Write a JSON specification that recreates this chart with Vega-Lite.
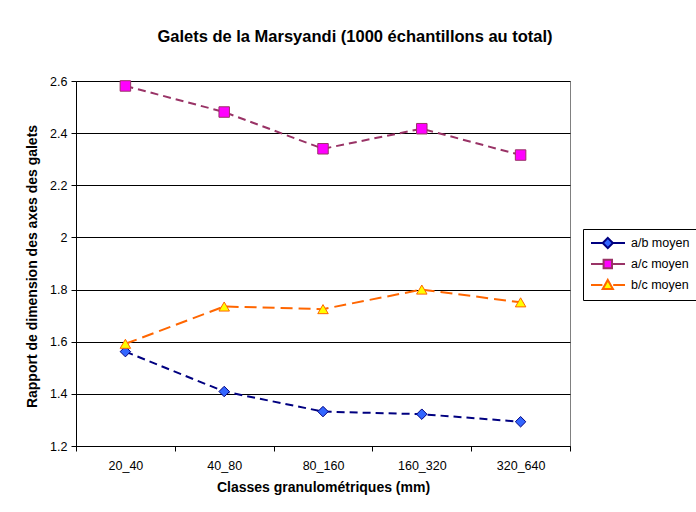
{
  "$schema": "https://vega.github.io/schema/vega-lite/v6.json",
  "autosize": "none",
  "width": 494,
  "height": 365,
  "padding": {"left": 76, "top": 81, "right": 126, "bottom": 66},
  "background": "white",
  "config": {
    "font": "Liberation Sans",
    "view": {"stroke": "#808080", "strokeWidth": 1},
    "axis": {"labelFont": "Liberation Sans", "titleFont": "Liberation Sans", "labelColor": "black", "titleColor": "black", "domainColor": "black", "tickColor": "black", "labelFontSize": 12.5, "titleFontSize": 14, "titleFontWeight": "bold"}
  },
  "title": {"text": "Galets de la Marsyandi (1000 échantillons au total)", "fontSize": 16.5, "fontWeight": "bold", "font": "Liberation Sans", "color": "black", "anchor": "middle", "dx": 32, "offset": 30},
  "data": {"values": [
    {"classe": "20_40", "serie": "a/b moyen", "valeur": 1.562},
    {"classe": "40_80", "serie": "a/b moyen", "valeur": 1.409},
    {"classe": "80_160", "serie": "a/b moyen", "valeur": 1.332},
    {"classe": "160_320", "serie": "a/b moyen", "valeur": 1.322},
    {"classe": "320_640", "serie": "a/b moyen", "valeur": 1.293},
    {"classe": "20_40", "serie": "a/c moyen", "valeur": 2.581},
    {"classe": "40_80", "serie": "a/c moyen", "valeur": 2.481},
    {"classe": "80_160", "serie": "a/c moyen", "valeur": 2.34},
    {"classe": "160_320", "serie": "a/c moyen", "valeur": 2.417},
    {"classe": "320_640", "serie": "a/c moyen", "valeur": 2.316},
    {"classe": "20_40", "serie": "b/c moyen", "valeur": 1.592},
    {"classe": "40_80", "serie": "b/c moyen", "valeur": 1.735},
    {"classe": "80_160", "serie": "b/c moyen", "valeur": 1.725},
    {"classe": "160_320", "serie": "b/c moyen", "valeur": 1.8},
    {"classe": "320_640", "serie": "b/c moyen", "valeur": 1.751}
  ]},
  "encoding": {
    "x": {"field": "classe", "type": "ordinal", "sort": ["20_40", "40_80", "80_160", "160_320", "320_640"],
      "scale": {"type": "band", "paddingInner": 0, "paddingOuter": 0},
      "axis": {"title": "Classes granulométriques (mm)", "labelAngle": 0, "tickBand": "extent", "tickSize": 5, "labelPadding": 8, "titlePadding": 9, "grid": false}},
    "y": {"field": "valeur", "type": "quantitative",
      "scale": {"domain": [1.2, 2.6], "nice": false, "zero": false},
      "axis": {"title": "Rapport de dimension des axes des galets", "values": [1.2, 1.4, 1.6, 1.8, 2.0, 2.2, 2.4, 2.6], "format": "~g", "grid": true, "gridColor": "black", "gridOpacity": 1, "gridWidth": 1, "tickSize": 5, "labelPadding": 4,
        "titleX": -44, "titleY": 185, "titleAngle": 270, "titleAlign": "center", "titleBaseline": "middle"}}
  },
  "resolve": {"scale": {"stroke": "independent"}, "legend": {"stroke": "independent"}},
  "layer": [
    {
      "mark": {"type": "line", "strokeWidth": 2},
      "encoding": {
        "stroke": {"field": "serie", "type": "nominal",
          "scale": {"domain": ["a/b moyen", "a/c moyen", "b/c moyen"], "range": ["#000080", "#993366", "#FF6600"]},
          "legend": {"title": null, "orient": "none", "legendX": 507, "legendY": 148, "padding": 7, "strokeColor": "black", "fillColor": "white",
            "labelFontSize": 12.5, "labelColor": "black", "labelFont": "Liberation Sans", "symbolSize": 144, "symbolStrokeWidth": 2, "labelOffset": 27, "rowPadding": 2,
            "encode": {"symbols": {"update": {
              "shape": {"signal": "datum.value === 'a/b moyen' ? 'M-1,0H0.9M2.7,0H4.67M1.8,-0.85L2.65,0L1.8,0.85L0.95,0Z' : datum.value === 'a/c moyen' ? 'M-1,0H1.1M2.5,0H4.67M1.1,-0.7H2.5V0.7H1.1Z' : 'M-1,0H0.9M2.7,0H4.67M1.8,-0.85L2.65,0.65H0.95Z'"},
              "fill": {"signal": "datum.value === 'a/b moyen' ? '#3366FF' : datum.value === 'a/c moyen' ? '#FF00FF' : '#FFFF00'"},
              "strokeDash": {"value": []}
            }}}}},
        "strokeDash": {"field": "serie", "type": "nominal", "scale": {"domain": ["a/b moyen", "a/c moyen", "b/c moyen"], "range": [[8, 5], [8, 5], [12, 6]]}, "legend": null}
      }
    },
    {
      "mark": {"type": "point", "filled": true, "opacity": 1, "strokeWidth": 1},
      "encoding": {
        "stroke": {"field": "serie", "type": "nominal", "scale": {"domain": ["a/b moyen", "a/c moyen", "b/c moyen"], "range": ["#000080", "#993366", "#FF6600"]}, "legend": null},
        "fill": {"field": "serie", "type": "nominal", "scale": {"domain": ["a/b moyen", "a/c moyen", "b/c moyen"], "range": ["#3366FF", "#FF00FF", "#FFFF00"]}, "legend": null},
        "shape": {"field": "serie", "type": "nominal", "scale": {"domain": ["a/b moyen", "a/c moyen", "b/c moyen"], "range": ["diamond", "square", "triangle-up"]}, "legend": null},
        "size": {"value": 110}
      }
    }
  ]
}
